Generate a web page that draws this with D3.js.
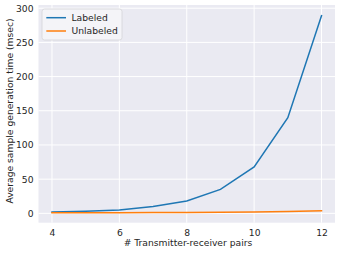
<!DOCTYPE html>
<html>
<head>
<meta charset="utf-8">
<script src="https://cdn.jsdelivr.net/npm/d3@7"></script>
<style>
  body { margin: 0; background: #fff; }
  text { font-family: "DejaVu Sans", sans-serif; }
</style>
</head>
<body>
<div id="chart"></div>
<script>
// data
var pairs = [4, 5, 6, 7, 8, 9, 10, 11, 12];
var labeled = [2, 3, 5, 10, 18, 35, 68, 140, 289];
var unlabeled = [1, 1, 1, 1.2, 1.4, 1.6, 2, 2.6, 3.8];
var seriesNames = ["Labeled", "Unlabeled"];
var seriesColors = ["#1f77b4", "#ff7f0e"];
var xTicks = [4, 6, 8, 10, 12];
var yTicks = [0, 50, 100, 150, 200, 250, 300];

var width = 340, height = 253;
var plot = { left: 38.5, right: 335, top: 5, bottom: 222.7 };
var fs = 9.2;

var svg = d3.select("#chart").append("svg")
    .attr("width", width)
    .attr("height", height);

var x = d3.scaleLinear().domain([3.6, 12.4]).range([plot.left, plot.right]);
var y = d3.scaleLinear().domain([-13.7, 304.7]).range([plot.bottom, plot.top]);

svg.append("rect")
    .attr("x", plot.left).attr("y", plot.top)
    .attr("width", plot.right - plot.left)
    .attr("height", plot.bottom - plot.top)
    .attr("fill", "#eaeaf2");

// grid
svg.append("g").selectAll("line").data(xTicks).enter().append("line")
    .attr("x1", d => x(d)).attr("x2", d => x(d))
    .attr("y1", plot.top).attr("y2", plot.bottom)
    .attr("stroke", "#fff").attr("stroke-width", 1);
svg.append("g").selectAll("line").data(yTicks).enter().append("line")
    .attr("x1", plot.left).attr("x2", plot.right)
    .attr("y1", d => y(d)).attr("y2", d => y(d))
    .attr("stroke", "#fff").attr("stroke-width", 1);

// axes (no tick marks, seaborn style)
var xAxis = svg.append("g")
    .attr("transform", "translate(0," + plot.bottom + ")")
    .call(d3.axisBottom(x).tickValues(xTicks).tickSize(0).tickPadding(7));
var yAxis = svg.append("g")
    .attr("transform", "translate(" + plot.left + ",0)")
    .call(d3.axisLeft(y).tickValues(yTicks).tickSize(0).tickPadding(5));
[xAxis, yAxis].forEach(function (a) {
    a.select(".domain").remove();
    a.selectAll("text").attr("font-size", fs).attr("fill", "#262626")
        .attr("font-family", "DejaVu Sans, sans-serif");
});

svg.append("text")
    .attr("x", 188).attr("y", 246)
    .attr("text-anchor", "middle").attr("font-size", fs).attr("fill", "#262626")
    .text("# Transmitter-receiver pairs");
svg.append("text")
    .attr("transform", "translate(12.5,111) rotate(-90)")
    .attr("text-anchor", "middle").attr("font-size", fs).attr("fill", "#262626")
    .text("Average sample generation time (msec)");

// lines
var line = d3.line().x(d => x(d[0])).y(d => y(d[1]));
[labeled, unlabeled].forEach(function (vals, i) {
    svg.append("path")
        .datum(pairs.map((p, j) => [p, vals[j]]))
        .attr("d", line)
        .attr("fill", "none")
        .attr("stroke", seriesColors[i])
        .attr("stroke-width", 1.5)
        .attr("stroke-linecap", "square");
});

// legend
var lg = svg.append("g");
lg.append("rect")
    .attr("x", 42).attr("y", 9).attr("width", 80).attr("height", 31)
    .attr("rx", 2.5)
    .attr("fill", "#f4f4f8")
    .attr("stroke", "#d4d4d8").attr("stroke-width", 0.8);
seriesNames.forEach(function (name, i) {
    var yy = 17.7 + i * 13.3;
    lg.append("line")
        .attr("x1", 46.3).attr("x2", 66).attr("y1", yy).attr("y2", yy)
        .attr("stroke", seriesColors[i]).attr("stroke-width", 1.5);
    lg.append("text")
        .attr("x", 71.5).attr("y", yy).attr("dy", "0.35em")
        .attr("font-size", fs).attr("fill", "#262626")
        .text(name);
});
</script>
</body>
</html>
